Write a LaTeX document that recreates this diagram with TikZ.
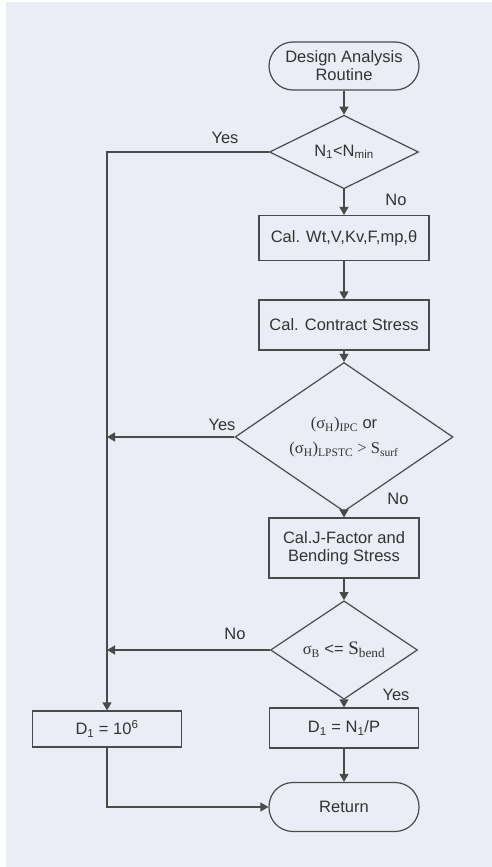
\documentclass[tikz,border=0pt]{standalone}
\usepackage{fontspec}
\setmainfont{Liberation Sans}
\newfontfamily\serf{Liberation Serif}
\usetikzlibrary{shapes.geometric,arrows.meta}
\definecolor{bg}{HTML}{EAEDF5}
\definecolor{ln}{HTML}{4A4A4A}
\definecolor{tx}{HTML}{333333}
\begin{document}
\begin{tikzpicture}[x=1pt,y=-1pt,
  font=\fontsize{16.5}{18}\selectfont, text=tx,
  proc/.style={draw=ln,line width=1.2pt,rectangle,inner sep=0pt,align=center},
  term/.style={proc,rounded corners=24pt},
  dec/.style={draw=ln,line width=1.2pt,diamond,inner sep=0pt,align=center},
  arr/.style={draw=ln,line width=1.2pt,-{Triangle[length=8pt,width=9pt]}},
  lbl/.style={inner sep=0pt}]
\useasboundingbox (0,0) rectangle (492,867);
\fill[white] (0,0) rectangle (492,867);
\fill[bg] (6,2) rectangle (492,867);

\node[term,minimum width=150pt,minimum height=48pt] (start) at (344,66) {Design Analysis\\Routine};
\node[dec,minimum width=149pt,minimum height=72pt] (d1) at (344,152) {N\textsubscript{1}<N\textsubscript{min}};
\node[proc,minimum width=170pt,minimum height=45pt] (b1) at (344,238) {Cal. Wt,V,Kv,F,mp,θ};
\node[proc,minimum width=170pt,minimum height=50pt] (b2) at (344,325) {Cal. Contract Stress};
\node[dec,minimum width=218pt,minimum height=109pt] (d2) at (344,437)
  {{\serf(σ\textsubscript{H})\textsubscript{IPC}} or\\[7pt]{\serf(σ\textsubscript{H})\textsubscript{LPSTC} > S\textsubscript{surf}}};
\node[proc,minimum width=150pt,minimum height=60pt] (b3) at (344,548) {Cal.J-Factor and\\Bending Stress};
\node[dec,minimum width=147pt,minimum height=73pt] (d3) at (344,650) {{\serf σ\textsubscript{B}} <= {\serf\fontsize{19}{20}\selectfont S\textsubscript{bend}}};
\node[proc,minimum width=149pt,minimum height=40pt] (b4) at (344,728) {D\textsubscript{1} = N\textsubscript{1}/P};
\node[term,minimum width=150pt,minimum height=49pt] (ret) at (344,807) {Return};
\node[proc,minimum width=149pt,minimum height=36pt] (b5) at (107,729) {D\textsubscript{1} = 10\textsuperscript{6}};

\draw[arr] (start) -- (d1);
\draw[arr] (d1) -- (b1);
\draw[arr] (b1) -- (b2);
\draw[arr] (b2) -- (d2);
\draw[arr] (d2) -- (b3);
\draw[arr] (b3) -- (d3);
\draw[arr] (d3) -- (b4);
\draw[arr] (b4) -- (ret);
\draw[arr] (d1.west) -- (d1.west -| b5.north) -- (b5.north);
\draw[arr] (d2.west) -- (d2.west -| b5.north);
\draw[arr] (d3.west) -- (d3.west -| b5.north);
\draw[arr] (b5.south) |- (ret.west);

\node[lbl] (l1) at (225,138) {Yes};
\node[lbl] (l2) at (396,200) {No};
\node[lbl] (l3) at (222,425) {Yes};
\node[lbl] (l4) at (398,499) {No};
\node[lbl] (l5) at (235,634) {No};
\node[lbl] (l6) at (396,695) {Yes};
\end{tikzpicture}
\end{document}
